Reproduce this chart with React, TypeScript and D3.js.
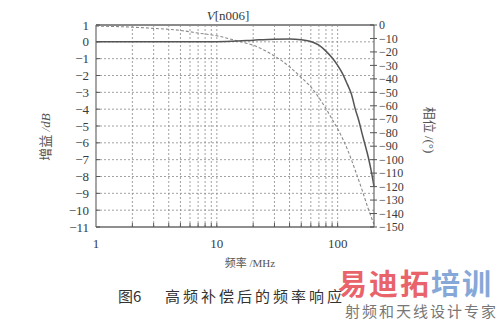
import React from "react";
import * as d3 from "d3";

const gainFreq = [1, 2, 5, 10, 15, 20, 30, 40, 50, 60, 70, 80, 90, 100, 110, 120, 130, 140, 150, 160, 170, 180, 190, 200];
const gainDb = [0, 0, 0, 0.01, 0.05, 0.1, 0.16, 0.17, 0.12, 0.02, -0.2, -0.55, -0.95, -1.4, -1.9, -2.5, -3.1, -4.0, -4.7, -5.5, -6.2, -6.9, -7.7, -8.6];
const phaseFreq = [1, 2, 3, 5, 7, 10, 15, 20, 30, 40, 50, 60, 70, 80, 90, 100, 120, 140, 160, 180, 200];
const phaseDeg = [-0.8, -1.6, -2.5, -4, -6, -8, -12, -15, -23, -31, -39, -46, -54, -62, -70, -77, -92, -108, -123, -137, -148];
const xTickLabels = [1, 10, 100];
const gainTicks = [1, 0, -1, -2, -3, -4, -5, -6, -7, -8, -9, -10, -11];
const phaseTicks = [0, -10, -20, -30, -40, -50, -60, -70, -80, -90, -100, -110, -120, -130, -140, -150];
const xGrid = [2, 3, 4, 5, 6, 7, 8, 9, 10, 20, 30, 40, 50, 60, 70, 80, 90, 100];

const fmt = (v: number) => (v < 0 ? "\u2212" + Math.abs(v) : String(v));

export default function App() {
  const x = d3.scaleLog().domain([1, 200]).range([96, 374]);
  const yG = d3.scaleLinear().domain([-11, 1]).range([227, 25]);
  const yP = d3.scaleLinear().domain([-150, 0]).range([227, 25]);
  const [x0, x1] = x.range();
  const [yb, yt] = yG.range();

  const gainLine = d3
    .line<number>()
    .x((_, i) => x(gainFreq[i]))
    .y((d) => yG(d))
    .curve(d3.curveMonotoneX)(gainDb) as string;
  const phaseLine = d3
    .line<number>()
    .x((_, i) => x(phaseFreq[i]))
    .y((d) => yP(d))
    .curve(d3.curveMonotoneX)(phaseDeg) as string;

  const serif = "'Liberation Serif', 'DejaVu Serif', serif";
  const cjk = "'Noto Sans CJK SC', sans-serif";
  const txt = "#3a3a3a";

  return (
    <svg
      width={500}
      height={322}
      style={{ position: "absolute", left: 0, top: 0, background: "#fff" }}
    >
      {/* grid */}
      {gainTicks
        .filter((t) => t < 1 && t > -11)
        .map((t) => (
          <line key={"hg" + t} x1={x0} x2={x1} y1={yG(t)} y2={yG(t)} stroke="#8a8a8a" strokeWidth={0.8} strokeDasharray="2,2" />
        ))}
      {xGrid.map((f) => (
        <line key={"vg" + f} x1={x(f)} x2={x(f)} y1={yt} y2={yb} stroke="#8a8a8a" strokeWidth={0.8} strokeDasharray="2,2" />
      ))}

      {/* curves */}
      <path d={phaseLine} fill="none" stroke="#8a8a8a" strokeWidth={1.1} strokeDasharray="3,2" />
      <path d={gainLine} fill="none" stroke="#555" strokeWidth={1.5} />

      {/* frame */}
      <line x1={x0} x2={x1} y1={yt} y2={yt} stroke="#8a8a8a" strokeWidth={2} />
      <line x1={x0} x2={x1} y1={yb} y2={yb} stroke="#6a6a6a" strokeWidth={1.5} />
      <line x1={x0} x2={x0} y1={yt} y2={yb} stroke="#6a6a6a" strokeWidth={1.2} />
      <line x1={x1} x2={x1} y1={yt} y2={yb} stroke="#6a6a6a" strokeWidth={1.2} />

      {/* left ticks */}
      {gainTicks.map((t) => (
        <g key={"gt" + t}>
          <line x1={x0} x2={x0 + 4} y1={yG(t)} y2={yG(t)} stroke="#555" strokeWidth={1} />
          <text x={89} y={yG(t)} dy="0.35em" textAnchor="end" fontFamily={serif} fontSize={13} fill={txt}>
            {fmt(t)}
          </text>
        </g>
      ))}
      {/* right ticks */}
      {phaseTicks.map((t) => (
        <g key={"pt" + t}>
          <line x1={x1 - 4} x2={x1 + 3} y1={yP(t)} y2={yP(t)} stroke="#555" strokeWidth={1} />
          <text x={379} y={yP(t)} dy="0.35em" textAnchor="start" fontFamily={serif} fontSize={12} fill={txt}>
            {fmt(t)}
          </text>
        </g>
      ))}
      {/* bottom ticks */}
      {xGrid.map((f) => (
        <line key={"bt" + f} x1={x(f)} x2={x(f)} y1={yb} y2={yb - 4} stroke="#555" strokeWidth={1} />
      ))}
      {xTickLabels.map((f) => (
        <text key={"xl" + f} x={x(f)} y={243} dy="0.35em" textAnchor="middle" fontFamily={serif} fontSize={13} fill={txt}>
          {f}
        </text>
      ))}

      {/* title */}
      <text x={228} y={15} dy="0.35em" textAnchor="middle" fontFamily={serif} fontSize={13} fill={txt}>
        <tspan fontStyle="italic">V</tspan>[n006]
      </text>

      {/* axis labels */}
      <text x={250} y={263} dy="0.35em" textAnchor="middle" fontSize={11} fill="#555">
        <tspan fontFamily={cjk}>频率</tspan>
        <tspan fontFamily={serif}> /MHz</tspan>
      </text>
      <text
        transform="translate(45,137) rotate(-90)"
        textAnchor="middle"
        dy="0.35em"
        fontSize={13}
        fill="#555"
      >
        <tspan fontFamily={cjk}>增益</tspan>
        <tspan fontFamily={serif} fontStyle="italic"> /dB</tspan>
      </text>
      <text
        transform="translate(430,130) rotate(90)"
        textAnchor="middle"
        dy="0.35em"
        fontSize={13}
        fill="#555"
      >
        <tspan fontFamily={cjk}>相位</tspan>
        <tspan fontFamily={serif}> /(°)</tspan>
      </text>

      {/* caption */}
      <text x={118} y={297} dy="0.35em" fontFamily={cjk} fontSize={15} fill="#333">
        图6
      </text>
      <text x={165} y={297} dy="0.35em" fontFamily={cjk} fontSize={15} letterSpacing={3} fill="#333">
        高频补偿后的频率响应
      </text>

      {/* watermark */}
      <text x={338} y={285} dy="0.35em" fontFamily={cjk} fontWeight="bold" fontSize={29} letterSpacing={2}>
        <tspan fill="#e8636a">易迪拓</tspan>
        <tspan fill="#86a8d8">培训</tspan>
      </text>
      <text x={345} y={312} dy="0.35em" fontFamily={cjk} fontSize={15} letterSpacing={2} fill="#777">
        射频和天线设计专家
      </text>
    </svg>
  );
}
